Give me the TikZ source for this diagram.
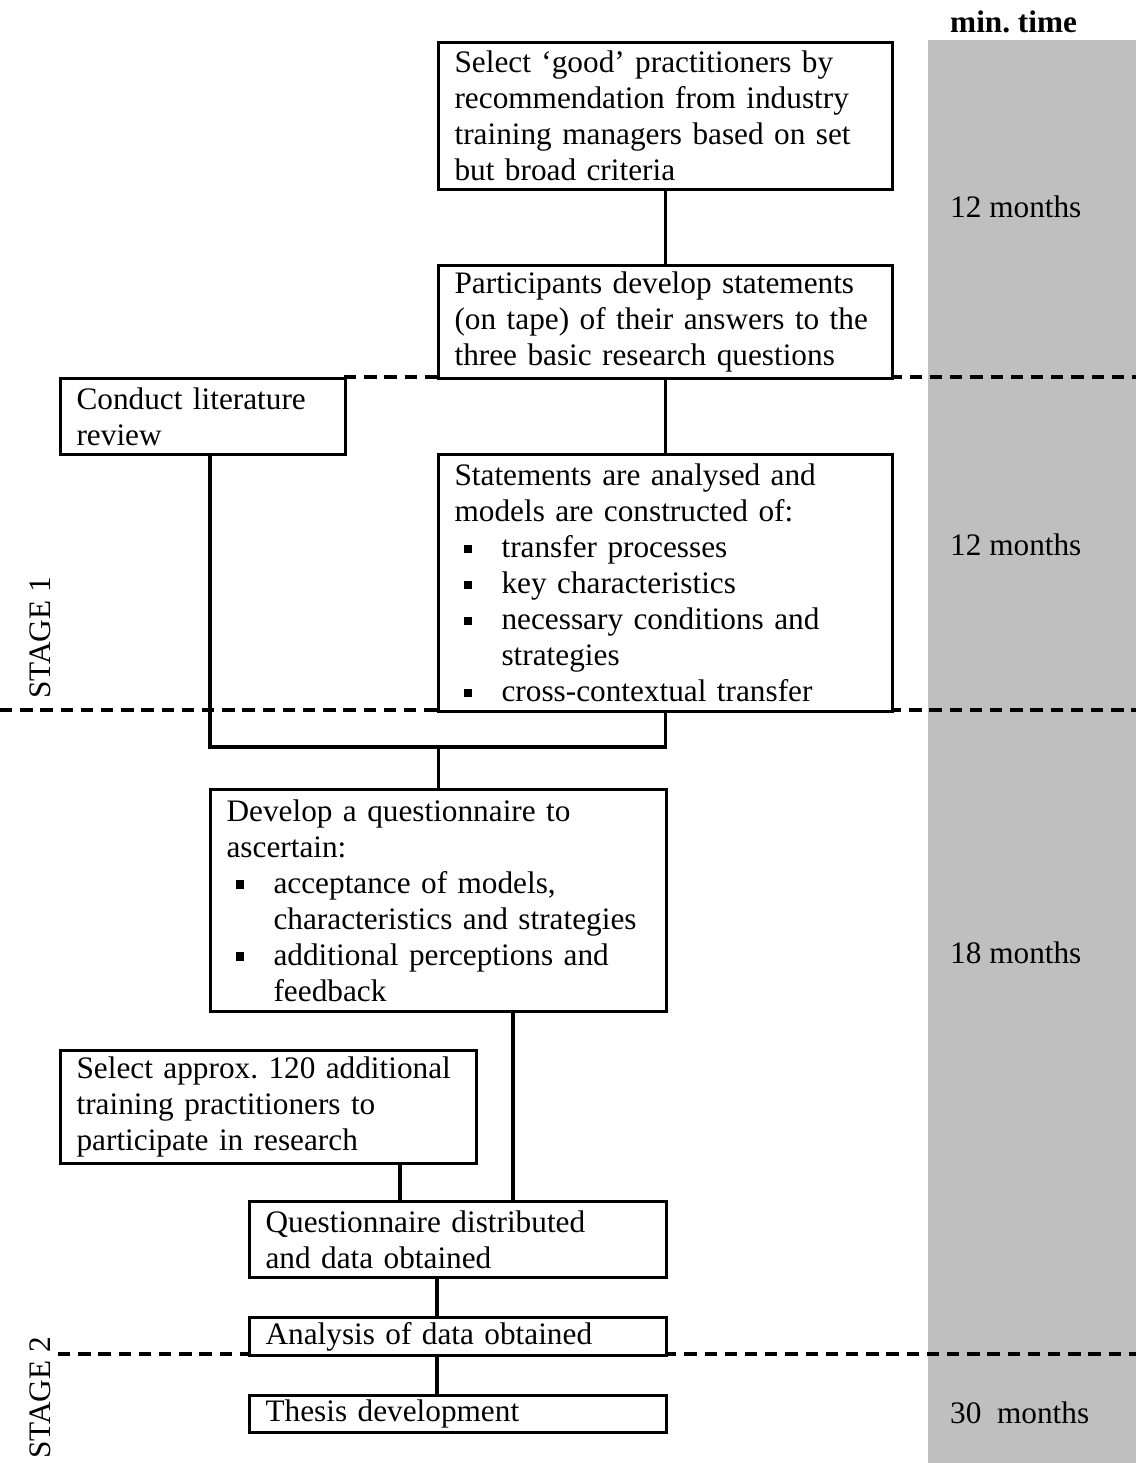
\documentclass[tikz,border=0pt]{standalone}
\usepackage{fontspec}
\setmainfont{Liberation Serif}
\usetikzlibrary{positioning, calc}
\frenchspacing

\newcommand{\bul}{\makebox[0.94cm][l]{\hspace*{0.18cm}\rule[2.5pt]{4.8pt}{4.8pt}}}
\newcommand{\ind}{\hspace*{0.94cm}}

\begin{document}
\begin{tikzpicture}[x=0.02cm, y=-0.02cm,
  stepbox/.style={rectangle, draw, line width=1.8pt, fill=white, anchor=north west,
    inner xsep=0.32cm, inner ysep=0pt, align=left,
    font=\fontsize{17.8pt}{20.5pt}\selectfont},
  link/.style={line width=1.8pt},
  stageline/.style={line width=1.8pt, dash pattern=on 7pt off 4.5pt},
  timelabel/.style={anchor=west, font=\fontsize{17.8pt}{20.5pt}\selectfont},
  stagelabel/.style={rotate=90, font=\fontsize{17.8pt}{20.5pt}\selectfont}]
  \useasboundingbox (0,0) rectangle (1136,1463);

  % time column
  \fill[black!25] (928,40) rectangle (1136,1463);
  \node[timelabel, font=\fontsize{17.8pt}{20.5pt}\selectfont\bfseries] (hdr) at (944,22) {min. time};
  \node[timelabel] (t1) at (944,207)  {12 months};
  \node[timelabel] (t2) at (944,545)  {12 months};
  \node[timelabel] (t3) at (944,953)  {18 months};
  \node[timelabel] (t4) at (944,1413) {30\ \ months};

  % stage separators
  \draw[stageline] (344,377) -- (1136,377);
  \draw[stageline] (0,710) -- (1136,710);
  \draw[stageline] (58,1354) -- (1136,1354);
  \node[stagelabel] (stage1) at (40,638)  {STAGE 1};
  \node[stagelabel] (stage2) at (40,1398) {STAGE 2};

  % boxes
  \node[stepbox, text width=8.44cm, minimum height=2.94cm] (select) at (437,41)
    {Select ‘good’ practitioners by\\recommendation from industry\\training managers based on set\\but broad criteria};
  \node[stepbox, text width=8.44cm, minimum height=2.26cm] (tape) at (437,264)
    {Participants develop statements\\(on tape) of their answers to the\\three basic research questions};
  \node[stepbox, text width=5.06cm, minimum height=1.52cm] (review) at (59,377)
    {Conduct literature\\review};
  \node[stepbox, text width=8.44cm, minimum height=5.14cm] (models) at (437,453)
    {Statements are analysed and\\models are constructed of:\\\bul transfer processes\\\bul key characteristics\\\bul necessary conditions and\\\ind strategies\\\bul cross-contextual transfer};
  \node[stepbox, text width=8.48cm, minimum height=4.44cm] (quest) at (209,788)
    {Develop a questionnaire to\\ascertain:\\\bul acceptance of models,\\\ind characteristics and strategies\\\bul additional perceptions and\\\ind feedback};
  \node[stepbox, text width=7.68cm, minimum height=2.26cm] (more) at (59,1049)
    {Select approx. 120 additional\\training practitioners to\\participate in research};
  \node[stepbox, text width=7.70cm, minimum height=1.52cm] (distrib) at (248,1200)
    {Questionnaire distributed\\and data obtained};
  \node[stepbox, text width=7.70cm, minimum height=0.76cm] (analysis) at (248,1316)
    {Analysis of data obtained};
  \node[stepbox, text width=7.70cm, minimum height=0.74cm] (thesis) at (248,1394)
    {Thesis development};

  % connectors
  \coordinate (join) at (210,747);
  \coordinate (leftdrop) at (400,1100);
  \coordinate (rightdrop) at (513,1100);
  \coordinate (spine) at (437,1300);
  \draw[link] (select.south) -- (tape.north);
  \draw[link] (tape.south) -- (models.north);
  \draw[link] (review.south -| join) -- (join) -| (models.south);
  \draw[link] (quest.north) -- (quest.north |- join);
  \draw[link] (more.south -| leftdrop) -- (distrib.north -| leftdrop);
  \draw[link] (quest.south -| rightdrop) -- (distrib.north -| rightdrop);
  \draw[link] (distrib.south -| spine) -- (analysis.north -| spine);
  \draw[link] (analysis.south -| spine) -- (thesis.north -| spine);
\end{tikzpicture}
\end{document}
